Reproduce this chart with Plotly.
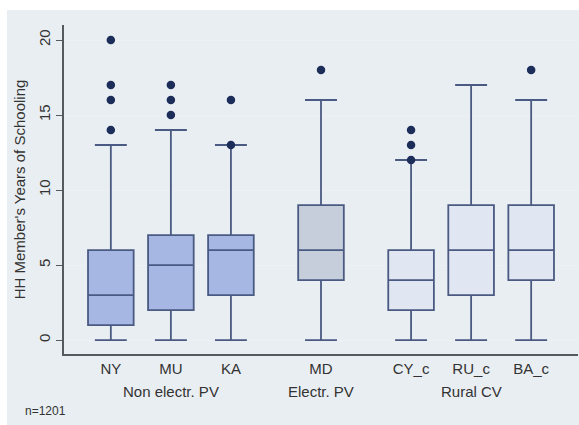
import plotly.graph_objects as go

# ---- data ----
categories = ["NY", "MU", "KA", "MD", "CY_c", "RU_c", "BA_c"]
groups = ["Non electr. PV", "Non electr. PV", "Non electr. PV", "Electr. PV",
          "Rural CV", "Rural CV", "Rural CV"]
lower_whisker = [0, 0, 0, 0, 0, 0, 0]
q1 = [1, 2, 3, 4, 2, 3, 4]
median = [3, 5, 6, 6, 4, 6, 6]
q3 = [6, 7, 7, 9, 6, 9, 9]
upper_whisker = [13, 14, 13, 16, 12, 17, 16]
outliers = [[14, 16, 17, 20], [15, 16, 17], [13, 16], [18], [12, 13, 14], [], [18]]
y_ticks = [0, 5, 10, 15, 20]
note = "n=1201"
y_title = "HH Member's Years of Schooling"

group_fill = {"Non electr. PV": "#a5b7e2", "Electr. PV": "#c6cedc", "Rural CV": "#e0e7f2"}
line_col = "#4a5a82"
dot_col = "#1c2d5a"

# positions: one unit per box, extra half unit between groups
pos = []
p = 0.0
for i, g in enumerate(groups):
    if i > 0:
        p += 1.0 if g == groups[i - 1] else 1.5
    pos.append(p)

fig = go.Figure()
for i, c in enumerate(categories):
    fig.add_trace(go.Box(
        x=[pos[i]], q1=[q1[i]], median=[median[i]], q3=[q3[i]],
        lowerfence=[lower_whisker[i]], upperfence=[upper_whisker[i]],
        width=0.76, whiskerwidth=0.7,
        fillcolor=group_fill[groups[i]],
        line=dict(color=line_col, width=1.8),
        boxpoints=False, showlegend=False, hoverinfo="skip",
    ))
    if outliers[i]:
        fig.add_trace(go.Scatter(
            x=[pos[i]] * len(outliers[i]), y=outliers[i], mode="markers",
            marker=dict(color=dot_col, size=8.5), showlegend=False, hoverinfo="skip",
        ))

FS = 15
# group labels
group_names = []
for g in groups:
    if g not in group_names:
        group_names.append(g)
annotations = []
for g in group_names:
    ps = [pos[i] for i in range(len(groups)) if groups[i] == g]
    annotations.append(dict(x=(min(ps) + max(ps)) / 2, xref="x", y=-0.115, yref="paper",
                            text=g, showarrow=False, xanchor="center", yanchor="middle",
                            font=dict(size=FS, color="#333333")))
annotations.append(dict(x=-0.08, xref="paper", y=-0.172, yref="paper", text=note,
                        showarrow=False, xanchor="left", yanchor="middle",
                        font=dict(size=12, color="#333333")))

W, H = 579, 425
L, R, T, B = 64, 1, 25, 71
pw, ph = W - L - R, H - T - B

def px_x(px):
    return (px - L) / pw

def px_y(py):
    return (H - B - py) / ph

fig.update_layout(
    width=W, height=H,
    margin=dict(l=L, r=R, t=T, b=B, pad=0),
    paper_bgcolor="white",
    plot_bgcolor="#fbfcfd",
    font=dict(family="Liberation Sans, Arial, sans-serif", color="#333333", size=FS),
    shapes=[dict(type="rect", xref="paper", yref="paper", layer="below",
                 x0=px_x(7), x1=px_x(W + 5), y0=px_y(H + 5), y1=px_y(10),
                 fillcolor="#e9eef2", line=dict(width=0))],
    annotations=annotations,
    xaxis=dict(range=[-0.78, 7.78], tickvals=pos, ticktext=categories,
               showgrid=False, zeroline=False, showline=True, linecolor="#555a60",
               linewidth=1.5, ticks="", ticklabelstandoff=0,
               tickfont=dict(size=FS, color="#333333")),
    yaxis=dict(range=[-0.93, 21], tickvals=y_ticks, tickangle=-90,
               showgrid=True, gridcolor="#eef1f4", gridwidth=1, zeroline=False,
               showline=True, linecolor="#555a60", linewidth=1.5,
               ticks="outside", ticklen=6, tickcolor="#555a60",
               tickfont=dict(size=FS, color="#333333"),
               title=dict(text=y_title, font=dict(size=FS, color="#333333"), standoff=7)),
)

fig.write_html("out.html")
